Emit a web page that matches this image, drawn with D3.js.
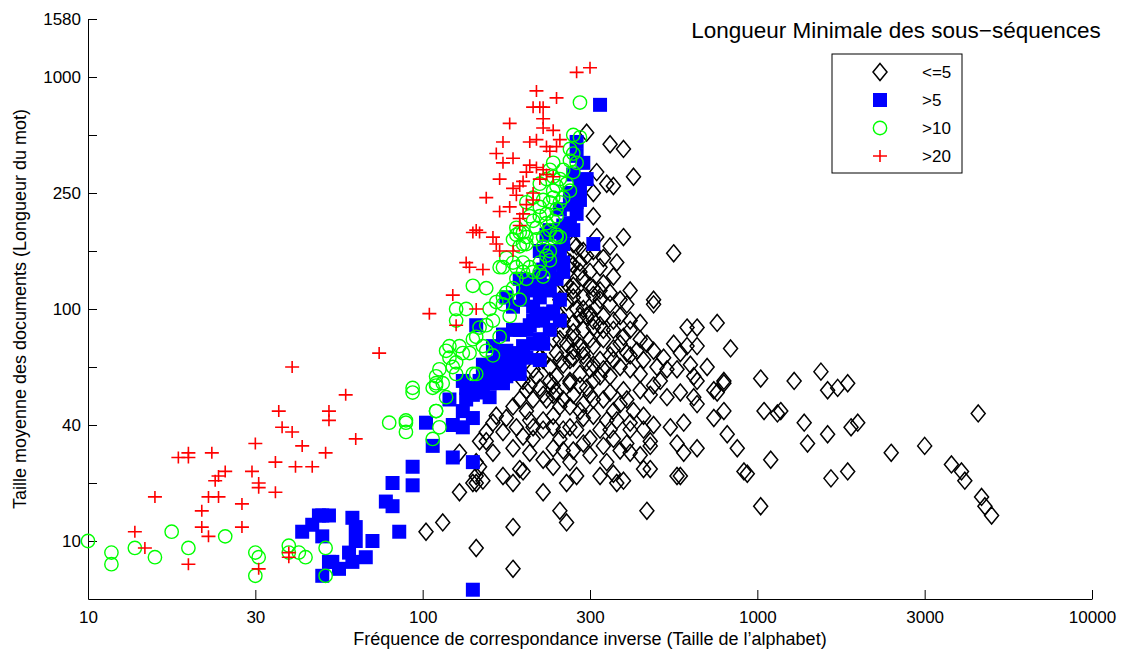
<!DOCTYPE html>
<html>
<head>
<meta charset="utf-8">
<title>Longueur Minimale des sous-séquences</title>
<script src="https://d3js.org/d3.v7.min.js"></script>
<style>
	body{ margin:0; background:#fff; }
	svg{ display:block; font-family:"Liberation Sans", Arial, sans-serif; }
	.axis path, .axis line{ stroke:#000; }
	.axis text{ font-size:17px; fill:#000; }
</style>
</head>
<body>
<script>
// values are log10 : [log10(fréquence inverse), log10(taille moyenne)]
var xTickVals = [1, 1.5, 2, 2.5, 3, 3.5, 4]
var xTickLabels = ['10', '30', '100', '300', '1000', '3000', '10000']
var yTickVals = [1, 1.25, 1.5, 1.75, 2, 2.25, 2.5, 2.75, 3, 3.25]
var yTickLabels = ['10', '', '40', '', '100', '', '250', '', '1000', '1580']

var seriesNames = ['<=5', '>5', '>10', '>20']

var diamondPts = [
	[2.79,1.92],[2.82,1.92],[2.88,1.94],[2.79,1.84],[2.82,1.84],[2.92,1.83],[2.77,1.81],[2.80,1.76],[2.85,1.75],[2.81,1.71],
	[2.90,1.69],[3.01,1.70],[3.11,1.69],[3.19,1.73],[3.21,1.65],[3.24,1.66],[3.27,1.68],[3.02,1.56],[3.06,1.55],[3.07,1.56],
	[3.14,1.51],[3.15,1.42],[3.04,1.35],[3.21,1.46],[3.22,1.27],[3.27,1.30],[3.28,1.49],[3.30,1.51],[3.01,1.15],[3.40,1.38],
	[3.50,1.41],[3.58,1.33],[3.61,1.30],[3.62,1.26],[3.66,1.55],[3.67,1.19],[3.68,1.15],[3.70,1.11],
	[2.69,1.67],[2.73,1.62],[2.77,1.64],[2.78,1.51],[2.74,1.49],[2.81,1.62],[2.82,1.59],[2.87,1.65],[2.90,1.68],[2.88,1.64],
	[2.87,1.53],[2.90,1.56],[2.91,1.46],[2.94,1.40],[2.96,1.30],[2.97,1.29],[2.82,1.40],[2.78,1.38],[2.76,1.42],[2.76,1.28],
	[2.77,1.28],[2.68,1.43],[2.68,1.41],[2.66,1.31],[2.68,1.31],[2.60,1.26],[2.58,1.25],[2.57,1.29],[2.67,1.13],[2.53,1.28],
	[2.55,1.34],[2.54,1.41],[2.57,1.44],[2.61,1.42],[2.62,1.38],[2.66,1.48],[2.66,1.54],[2.63,1.56],[2.59,1.59],[2.61,1.61],
	[2.56,1.64],[2.54,1.61],[2.55,1.52],[2.58,1.52],[2.62,1.51],[2.82,1.69],
	[2.60,2.31],[2.56,2.27],[2.58,2.20],[2.57,2.14],[2.54,2.22],[2.53,2.18],[2.51,2.25],[2.49,2.23],[2.47,2.20],[2.50,2.16],
	[2.48,2.13],[2.51,2.09],[2.54,2.11],[2.56,2.07],[2.53,2.04],[2.52,2.01],[2.50,1.98],[2.47,1.97],[2.54,1.97],[2.57,1.95],
	[2.61,2.02],[2.69,2.04],[2.69,2.02],[2.75,2.24],[2.65,1.94],[2.62,1.91],[2.60,1.88],[2.59,1.85],[2.57,1.83],[2.61,1.81],
	[2.64,1.82],[2.67,1.85],[2.69,1.82],[2.72,1.79],[2.75,1.85],[2.76,1.74],[2.73,1.74],[2.70,1.75],[2.65,1.72],[2.62,1.74],
	[2.59,1.75],[2.56,1.71],[2.53,1.71],[2.50,1.74],[2.47,1.72],[2.44,1.69],[2.45,1.79],[2.48,1.82],[2.51,1.84],[2.54,1.87],
	[2.51,1.92],[2.48,1.91],[2.45,1.90],[2.43,2.03],[2.45,2.05],[2.43,2.11],[2.44,2.17],[2.46,2.27],
	[2.49,2.76],[2.56,2.71],[2.60,2.69],[2.52,2.59],[2.55,2.54],[2.57,2.53],[2.63,2.57],[2.51,2.50],[2.51,2.40],[2.52,2.31],
	[2.31,1.56],[2.36,1.52],[2.39,1.49],[2.27,1.58],[2.25,1.53],[2.22,1.54],[2.28,1.49],[2.33,1.49],[2.21,1.51],[2.19,1.47],
	[2.19,1.43],[2.21,1.38],[2.27,1.40],[2.32,1.38],[2.24,1.47],[2.30,1.45],[2.39,1.40],[2.44,1.34],[2.39,1.32],[2.46,1.28],
	[2.43,1.25],[2.36,1.21],[2.41,1.13],[2.43,1.08],[2.27,1.06],[2.16,0.97],[2.27,0.88],[2.16,1.25],[2.18,1.26],[2.24,1.28],
	[2.27,1.25],[2.29,1.31],[2.30,1.30],[2.17,1.32],[2.48,1.42],[2.48,1.53],[2.46,1.48],[2.44,1.49],[2.41,1.58],[2.37,1.61],
	[2.40,1.64],[2.44,1.58],[2.48,1.59],[2.51,1.61],[2.31,1.65],[2.35,1.66],[2.39,1.67],[2.44,1.68],[2.49,1.66],
	[2.45,2.28],[2.48,2.25],[2.44,2.20],[2.47,2.16],[2.42,2.13],[2.45,2.08],[2.48,2.05],[2.40,2.07],[2.46,2.00],[2.49,1.97],
	[2.41,1.97],[2.38,1.94],[2.45,1.94],[2.42,1.91],[2.39,1.87],[2.43,1.85],[2.47,1.84],[2.40,1.81],[2.35,1.79],[2.44,1.78],
	[2.49,1.77],[2.38,1.75],[2.33,1.74],[2.30,1.69],[2.34,1.71],[2.40,1.71],[2.23,1.74],[2.26,1.77],
	[2.11,1.38],[2.11,1.21],[2.15,1.25],[2.16,1.28],[2.06,1.08],[2.01,1.04],[2.17,1.43],[2.16,1.34],
	[2.41,2.04],[2.42,1.95],[2.45,1.87],[2.48,1.80],[2.51,1.76],[2.39,1.63],[2.42,1.61],[2.45,1.63],[2.50,1.63],[2.53,1.78],
	[2.56,1.80],[2.54,1.91],[2.51,1.95],[2.48,2.00],[2.51,2.06],[2.45,2.10],[2.41,1.78],[2.38,1.69],[2.36,1.63],[2.33,1.61],
	[2.29,1.61],[2.32,1.52],[2.36,1.48],[2.41,1.44],[2.45,1.39],[2.50,1.37],[2.53,1.48],[2.57,1.56],[2.60,1.65],[2.65,1.65],
	[2.68,1.63],[2.71,1.69],[2.62,1.48],[2.65,1.37],[2.69,1.50],[2.59,2.04],[2.62,2.08],[2.36,1.78],[2.32,1.67],[2.57,1.91],
	[2.42,2.23],[2.45,2.19],[2.50,2.10],[2.53,2.08],[2.56,2.02],[2.59,1.97],[2.53,1.93],[2.50,1.87],[2.45,1.82],[2.42,1.76],
	[2.47,1.67],[2.51,1.69],[2.54,1.74],[2.57,1.78],[2.62,1.80],[2.66,1.78],[2.65,1.87],[2.62,1.95],[2.41,1.87],[2.39,1.54],
	[2.42,1.48],[2.47,1.56],[2.51,1.54],[2.56,1.48],[2.59,1.39],[2.50,1.44],[2.33,1.44],[2.36,1.35],[2.42,1.39]
]

var squarePts = [
	[1.64,1.04],[1.67,1.07],[1.69,1.11],[1.70,1.11],[1.72,1.11],[1.70,1.02],[1.72,0.91],[1.73,0.91],[1.75,0.88],[1.70,0.85],
	[1.78,0.95],[1.79,0.91],[1.80,1.00],[1.79,1.10],[1.80,1.06],[1.83,0.93],[1.85,1.00],[1.89,1.17],[1.91,1.15],[1.91,1.25],
	[1.93,1.04],[1.97,1.32],[1.97,1.24],[2.01,1.51],[2.03,1.41],[2.09,1.50],[2.12,1.49],[2.09,1.36],[2.15,1.34],[2.15,0.79],
	[2.08,1.61],[2.13,1.61],[2.15,1.53],[2.12,1.69],[2.17,1.69],[2.20,1.68],[2.24,1.68],[2.17,1.64],[2.20,1.62],[2.13,1.66],
	[2.18,1.71],[2.23,1.79],[2.21,1.77],[2.23,1.74],[2.25,1.71],[2.27,1.74],[2.29,1.77],[2.27,1.81],[2.25,1.82],[2.29,1.72],
	[2.31,1.79],[2.35,1.78],[2.33,1.85],[2.31,1.91],[2.35,1.87],[2.38,1.91],[2.38,1.98],[2.34,1.98],[2.33,2.01],[2.27,2.01],
	[2.25,2.05],[2.29,2.13],[2.35,2.05],[2.38,2.08],[2.40,2.13],[2.35,2.14],[2.38,2.18],[2.37,2.22],[2.35,2.25],[2.37,2.32],
	[2.16,1.93],[2.41,2.33],[2.38,2.34],[2.44,2.37],[2.45,2.34],[2.46,2.41],[2.46,2.46],[2.44,2.50],[2.47,2.53],[2.45,2.58],
	[2.49,2.56],[2.48,2.63],[2.46,2.66],[2.46,2.72],[2.53,2.88],[2.51,2.28],[2.42,2.20],[2.42,2.16],[2.41,1.95],[2.41,2.04],
	[2.39,2.25],[2.42,2.28],[2.33,2.08],[2.30,2.04],[2.27,1.91],[2.24,1.89],[2.21,1.84],[2.18,1.76],[2.32,1.93],[2.36,1.95],
	[2.41,2.43],[2.44,2.45],
	[2.30,2.08],[2.32,2.12],[2.36,2.17],[2.39,2.21],[2.41,2.25],[2.42,2.36],[2.36,2.10],[2.33,1.95],[2.30,1.84],[2.27,1.78],
	[2.24,1.76],[2.21,1.72],[2.18,1.67],[2.15,1.63],[2.12,1.56],[2.29,1.91],[2.36,1.85],[2.39,1.99],[2.45,2.47],[2.47,2.47]
]

var circlePts = [
	[1.00,1.00],[1.07,0.95],[1.07,0.90],[1.14,0.97],[1.20,0.93],[1.25,1.04],[1.30,0.97],[1.41,1.02],[1.50,0.95],[1.51,0.93],
	[1.50,0.85],[1.60,0.98],[1.60,0.95],[1.63,0.95],[1.65,0.93],[1.71,0.97],[1.71,0.85],
	[1.97,1.66],[1.97,1.64],[2.04,1.68],[2.03,1.66],[2.04,1.67],[2.04,1.71],[2.10,1.72],[2.15,1.72],[2.05,1.74],[2.07,1.62],
	[2.04,1.56],[2.04,1.56],[1.90,1.51],[1.95,1.52],[1.95,1.51],[1.95,1.47],[2.05,1.49],[2.03,1.44],
	[2.28,2.32],[2.31,2.31],[2.30,2.28],[2.29,2.27],[2.34,2.30],[2.36,2.27],[2.37,2.23],[2.38,2.21],[2.35,2.20],[2.40,2.31],
	[2.38,2.25],[2.25,2.22],[2.27,2.20],[2.28,2.18],[2.30,2.20],[2.32,2.18],[2.24,2.18],[2.30,2.16],[2.31,2.13],[2.33,2.16],
	[2.28,2.13],[2.35,2.16],[2.36,2.14],[2.23,2.18],[2.15,2.10],[2.19,2.09],[2.27,2.09],[2.25,2.07],[2.24,2.05],[2.22,2.03],
	[2.24,2.02],[2.10,2.00],[2.13,2.00],[2.10,1.95],[2.20,2.00],[2.21,1.95],[2.29,2.04],[2.26,1.97],[2.17,1.92],[2.19,1.93],
	[2.16,1.88],[2.15,1.87],[2.18,1.84],[2.19,1.82],[2.21,1.80],[2.23,1.88],[2.11,1.84],[2.08,1.84],[2.07,1.82],[2.12,1.81],
	[2.14,1.81],[2.08,1.79],[2.10,1.77],[2.09,1.75],[2.16,1.72],[2.06,1.68],
	[2.39,2.63],[2.38,2.60],[2.39,2.57],[2.35,2.54],[2.37,2.56],[2.40,2.53],[2.33,2.48],[2.36,2.47],[2.39,2.48],[2.31,2.46],
	[2.35,2.44],[2.32,2.40],[2.37,2.41],[2.40,2.40],[2.28,2.35],[2.30,2.33],[2.27,2.30],[2.31,2.28],[2.34,2.35],[2.37,2.37],
	[2.47,2.89],[2.45,2.75],[2.47,2.74],[2.44,2.69],[2.45,2.67],[2.44,2.64],[2.46,2.63],[2.42,2.60],[2.45,2.59],[2.41,2.56],
	[2.43,2.54],[2.39,2.51],[2.44,2.51],[2.42,2.48],[2.41,2.46],[2.38,2.46],[2.40,2.43],[2.35,2.40],[2.39,2.38],[2.33,2.38],
	[2.38,2.34],[2.36,2.31],[2.40,2.32],[2.29,2.33],[2.41,2.31]
]

var plusPts = [
	[2.50,3.04],[2.46,3.02],[2.34,2.94],[2.40,2.91],[2.33,2.87],[2.35,2.87],[2.36,2.87],[2.36,2.82],[2.26,2.80],[2.36,2.78],
	[2.39,2.77],[2.34,2.73],[2.32,2.72],[2.24,2.72],[2.37,2.70],[2.40,2.70],[2.41,2.73],[2.38,2.68],[2.22,2.67],[2.27,2.65],
	[2.24,2.63],[2.32,2.62],[2.34,2.61],[2.36,2.60],[2.31,2.59],[2.37,2.58],[2.39,2.57],[2.23,2.56],[2.35,2.56],[2.30,2.55],
	[2.27,2.52],[2.29,2.53],[2.33,2.50],[2.19,2.48],[2.28,2.49],[2.33,2.47],[2.31,2.45],[2.26,2.44],[2.23,2.42],[2.30,2.41],
	[2.29,2.39],[2.29,2.36],[2.16,2.34],[2.15,2.33],[2.17,2.33],[2.21,2.31],[2.22,2.28],[2.23,2.25],[2.27,2.25],[2.13,2.20],
	[2.14,2.18],[2.18,2.17],[2.09,2.06],[2.02,1.98],[2.16,2.00],[2.10,1.93],[1.87,1.81],[1.77,1.63],[1.61,1.75],[1.57,1.56],
	[1.72,1.56],[1.72,1.52],[1.58,1.49],[1.61,1.47],[1.80,1.44],[1.50,1.42],[1.64,1.41],[1.71,1.38],[1.30,1.38],[1.27,1.36],
	[1.30,1.36],[1.37,1.38],[1.56,1.34],[1.62,1.32],[1.67,1.32],[1.41,1.30],[1.39,1.28],[1.38,1.26],[1.49,1.30],[1.51,1.25],
	[1.51,1.23],[1.56,1.21],[1.20,1.19],[1.36,1.19],[1.39,1.19],[1.46,1.16],[1.34,1.13],[1.34,1.06],[1.46,1.06],[1.36,1.02],
	[1.14,1.04],[1.17,0.97],[1.30,0.90],[1.60,0.95],[1.60,0.93],[1.51,0.88]
]

var margin = { top: 19, right: 30, bottom: 56, left: 88 }
var W = 1122, H = 655
var width = W - margin.left - margin.right
var height = H - margin.top - margin.bottom

var svg = d3.select('body').append('svg')
	.attr('width', W)
	.attr('height', H)

var x = d3.scaleLinear().domain([1, 4]).range([margin.left, margin.left + width])
var y = d3.scaleLinear().domain([0.75, 3.25]).range([margin.top + height, margin.top])

var xAxis = d3.axisBottom(x)
	.tickValues(xTickVals)
	.tickFormat((d, i) => xTickLabels[i])
	.tickSizeInner(-9).tickSizeOuter(0).tickPadding(12)
var yAxis = d3.axisLeft(y)
	.tickValues(yTickVals)
	.tickFormat((d, i) => yTickLabels[i])
	.tickSizeInner(-9).tickSizeOuter(0).tickPadding(7)

svg.append('g').attr('class', 'axis')
	.attr('transform', 'translate(0,' + (margin.top + height) + ')')
	.call(xAxis)
svg.append('g').attr('class', 'axis')
	.attr('transform', 'translate(' + margin.left + ',0)')
	.call(yAxis)

svg.append('text')
	.attr('x', 590).attr('y', 645)
	.attr('text-anchor', 'middle')
	.style('font-size', '18px')
	.text('Fréquence de correspondance inverse (Taille de l’alphabet)')
svg.append('text')
	.attr('transform', 'translate(26,' + 309 + ') rotate(-90)')
	.attr('text-anchor', 'middle')
	.style('font-size', '18px')
	.text('Taille moyenne des documents (Longueur du mot)')

// marker shapes
var diamond = 'M0,-8.5L7,0L0,8.5L-7,0Z'
var plus = 'M-7,0H7M0,-6V6'
var square = d3.symbol().type(d3.symbolSquare).size(196)()
var circle = d3.symbol().type(d3.symbolCircle).size(140)()

var plot = svg.append('g')
function drawSeries(data, path, fill, stroke, sw){
	plot.append('g').selectAll('path').data(data).enter()
		.append('path')
		.attr('transform', d => 'translate(' + x(d[0]) + ',' + y(d[1]) + ')')
		.attr('d', path)
		.attr('fill', fill)
		.attr('stroke', stroke)
		.attr('stroke-width', sw)
}
drawSeries(diamondPts, diamond, 'none', '#000', 1.5)
drawSeries(squarePts, square, '#0000ff', 'none', 0)
drawSeries(circlePts, circle, 'none', '#00ff00', 1.4)
drawSeries(plusPts, plus, 'none', '#ff0000', 1.6)

// title + legend
svg.append('text')
	.attr('x', 896).attr('y', 38)
	.attr('text-anchor', 'middle')
	.style('font-size', '22.5px')
	.text('Longueur Minimale des sous−séquences')

var legend = svg.append('g').attr('id', 'legend')
legend.append('rect')
	.attr('x', 832).attr('y', 54)
	.attr('width', 130).attr('height', 119)
	.attr('fill', '#fff').attr('stroke', '#000')
var legendStyle = [
	{ path: diamond, fill: 'none', stroke: '#000', sw: 1.5 },
	{ path: square, fill: '#0000ff', stroke: 'none', sw: 0 },
	{ path: circle, fill: 'none', stroke: '#00ff00', sw: 1.4 },
	{ path: plus, fill: 'none', stroke: '#ff0000', sw: 1.6 }
]
var legendY = d3.scalePoint().domain(seriesNames).range([72, 156])
seriesNames.forEach(function(name, i){
	var s = legendStyle[i]
	legend.append('path')
		.attr('transform', 'translate(880,' + legendY(name) + ')')
		.attr('d', s.path)
		.attr('fill', s.fill).attr('stroke', s.stroke).attr('stroke-width', s.sw)
	legend.append('text')
		.attr('x', 922).attr('y', legendY(name))
		.attr('dy', '0.35em')
		.style('font-size', '17px')
		.text(name)
})
</script>
</body>
</html>
